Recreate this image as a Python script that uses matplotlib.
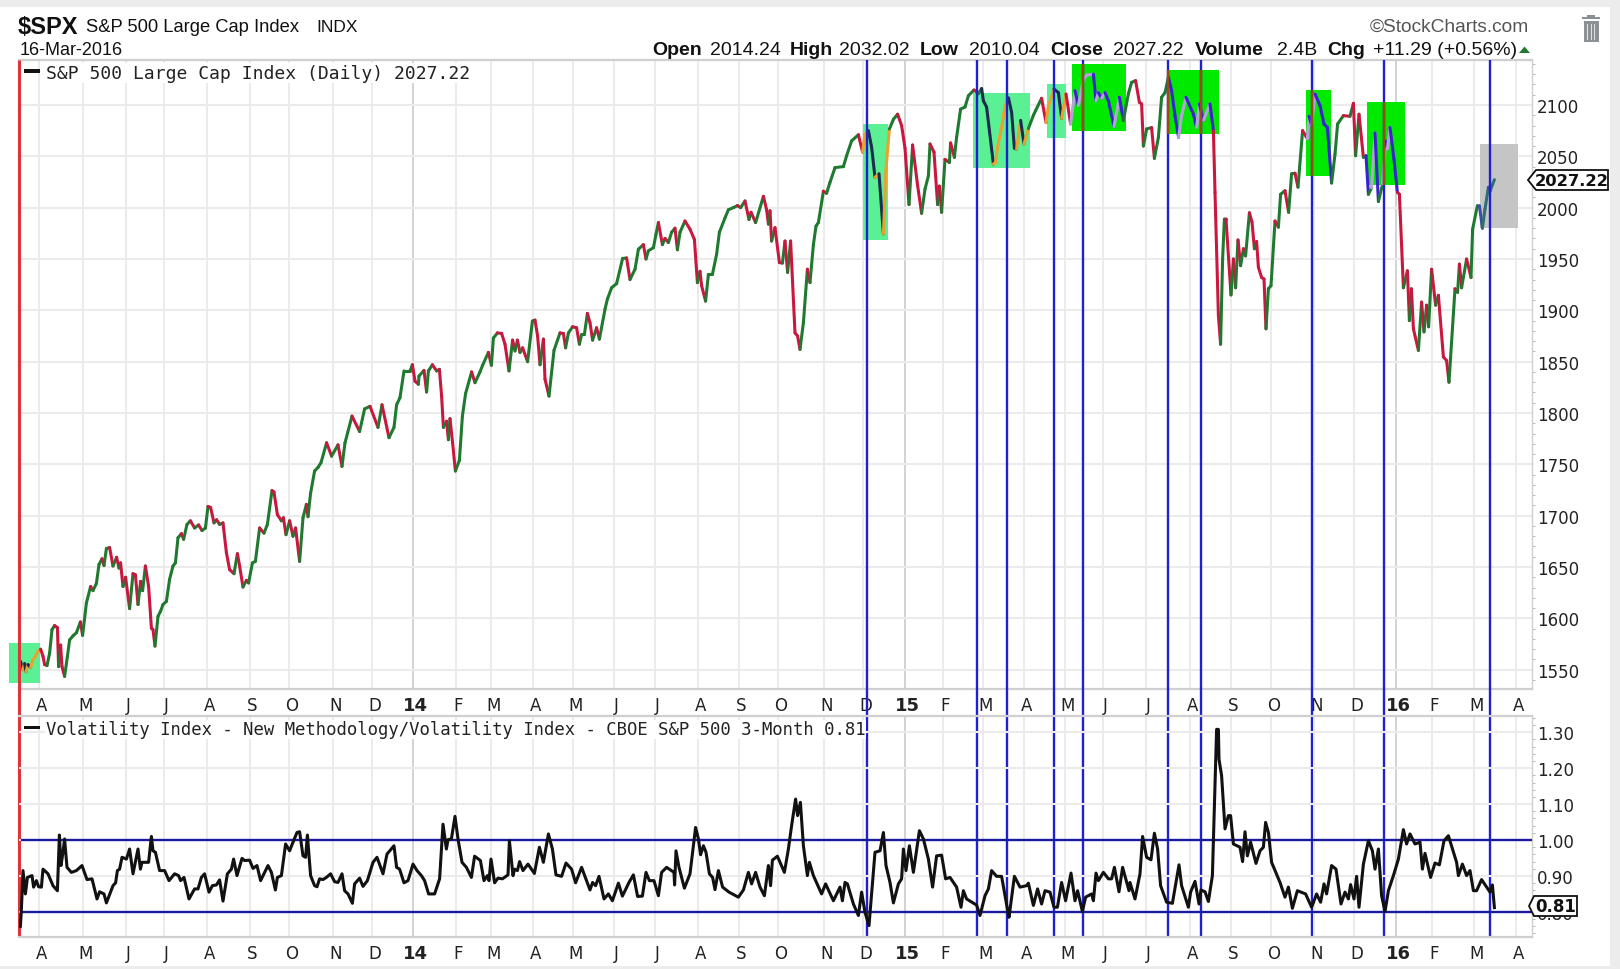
import matplotlib
matplotlib.use("Agg")
import numpy as np
import matplotlib.pyplot as plt
from matplotlib.collections import LineCollection
from matplotlib.patches import Rectangle, Polygon
from matplotlib.ticker import FormatStrFormatter
from matplotlib.transforms import blended_transform_factory, ScaledTranslation

# ---------- data (x = trading session counted from the left edge) ----------
price_session = [
 1.0,2.0,3.0,3.7,4.7,6.0,7.2,8.4,9.7,11.0,12.2,13.0,14.2,15.5,16.7,18.0,19.4,20.0,21.0,21.7,
 23.0,24.4,25.5,27.2,28.9,30.9,32.0,33.9,36.0,37.2,38.9,40.2,41.7,42.7,43.9,45.5,47.2,49.0,50.2,51.0,
 52.2,53.5,55.5,57.2,58.4,59.7,61.0,62.0,63.4,65.0,66.4,67.2,68.2,69.7,71.0,72.2,73.9,75.5,77.2,78.4,
 79.7,81.4,82.5,84.2,85.9,88.0,90.0,91.7,93.4,94.7,96.0,97.7,99.0,100.5,102.2,103.9,105.5,107.7,109.4,110.5,
 112.2,113.9,115.0,116.9,118.4,120.5,122.7,124.4,126.7,127.7,129.4,131.4,132.4,133.7,135.5,137.2,138.5,140.5,142.2,143.9,
 144.7,146.0,148.0,149.7,151.2,154.0,156.5,159.7,161.7,163.2,166.7,170.5,173.0,175.7,179.7,181.7,185.2,187.7,189.0,190.7,
 192.7,195.7,196.9,198.2,199.9,200.2,202.7,204.0,204.9,206.9,209.0,210.4,211.5,212.4,214.0,214.9,215.7,217.0,218.4,220.4,
 221.9,223.5,226.5,228.2,230.7,232.0,234.9,236.4,237.4,239.4,241.5,243.2,245.2,247.0,248.2,249.4,250.7,252.0,254.5,256.9,
 258.2,259.5,260.7,262.4,263.2,265.2,267.7,270.7,272.4,273.5,274.9,277.0,279.0,280.4,281.5,282.9,284.4,285.7,287.0,289.0,
 290.4,293.2,294.4,296.5,299.0,302.0,304.0,305.7,308.2,309.9,312.4,313.7,314.9,317.4,318.7,319.9,321.9,323.2,324.9,326.5,
 328.2,329.4,330.7,333.2,335.7,337.9,339.4,340.7,341.5,343.5,344.9,346.9,349.0,350.4,353.2,354.9,357.4,359.4,361.0,363.2,
 365.2,366.2,368.5,372.4,374.0,374.9,375.7,376.5,378.2,380.4,381.9,383.2,384.5,386.0,388.2,389.5,390.7,392.4,394.4,395.7,
 397.4,398.7,399.9,402.4,404.0,405.7,408.2,412.4,414.0,416.5,419.9,422.0,423.2,424.9,426.5,428.2,430.2,432.4,433.7,435.4,
 437.4,439.5,441.5,443.2,445.2,447.0,449.4,451.5,453.2,454.9,455.7,457.7,459.5,460.4,461.5,463.2,465.4,466.0,467.9,469.0,
 471.0,473.2,474.9,477.7,479.9,481.5,482.4,484.0,485.4,487.4,488.5,489.5,491.5,493.2,494.9,496.5,497.9,499.0,501.0,502.7,
 504.9,507.4,508.5,511.5,513.7,514.9,517.7,519.9,521.5,523.7,526.0,528.2,529.9,532.4,534.0,537.4,538.7,539.9,541.5,543.2,
 544.9,547.7,550.4,552.4,554.9,556.5,558.5,560.4,561.5,562.4,564.0,566.5,567.9,569.9,571.5,573.2,574.9,576.5,578.2,580.0,
 581.5,583.7,587.4,589.0,590.4,592.4,595.7,597.4,598.2,599.9,601.0,602.0,602.9,603.7,606.2,607.4,608.5,609.7,611.0,612.4,
 613.5,615.4,616.7,617.9,619.0,619.9,621.5,622.7,623.7,624.9,626.2,628.2,629.9,631.0,633.2,635.0,636.5,638.2,639.7,642.0,
 644.4,645.2,646.5,648.2,650.7,652.7,654.4,656.5,658.2,659.5,662.4,665.7,667.4,668.5,670.2,672.4,673.7,674.9,676.5,678.2,
 679.9,682.0,683.5,684.4,685.7,687.7,689.4,690.4,692.4,694.4,695.4,696.4,697.4,699.9,701.5,702.7,704.0,705.0,706.5,708.5,
 709.9,712.4,714.0,715.2,718.2,719.5,720.4,721.5,724.0,726.2,727.0,729.4,730.4,731.9,733.2,734.9,735.7,737.9]
price_close = [
 1558,1550,1556,1548,1555,1552,1560,1563,1568,1570,1563,1555,1554,1566,1589,1593,1591,1553,1574,1553,
 1543.5,1563,1579,1583,1586,1596.5,1583.5,1615,1631,1627,1634,1652.5,1658,1651.5,1668,1669,1651,1659.5,1649,1654,
 1631,1640,1609.5,1643.5,1642.5,1613.5,1636,1627,1651,1631,1590.5,1589,1573,1602,1607,1613.5,1616.5,1638,1651,1654,
 1678.5,1682.5,1677,1691.5,1695,1688,1691,1685.5,1688,1709,1708,1693,1696,1691.5,1693,1664,1647.5,1643.5,1663,1651,
 1630.5,1637,1634.5,1654,1655.5,1688,1683,1691.5,1724.5,1723,1701,1695,1698,1681.5,1695,1680,1688,1655.5,1698,1711,
 1699,1722,1743.5,1747,1751.6,1771,1758,1769,1748,1771,1797,1782,1804,1806.5,1786,1808,1776,1786,1808,1815,
 1841,1841,1847,1831,1828,1836,1841.5,1820.5,1841,1847,1841,1842.5,1816.5,1786,1792,1774,1794.5,1771,1743.5,1754,
 1797,1819,1840,1829.5,1840,1846.5,1859,1846.5,1873,1878,1877.5,1867,1841,1871,1860.5,1871,1859,1863.5,1850,1889.5,
 1890.5,1875,1847,1872,1833,1816.5,1861,1878,1877.5,1863.5,1878,1884,1883,1867,1876.5,1876.5,1897,1888,1871,1883,
 1872,1901,1911,1922,1926,1950.5,1951,1930,1940,1959.5,1964,1950,1958,1961,1974,1985.5,1964,1970,1966,1976,
 1980,1959,1976,1987,1979,1969,1927,1938,1924,1909,1935,1935,1954.5,1976,1990,1998,2000,2002,2000,2006.5,
 1988.5,1995.5,1985.5,2011,1998,1984,1997,1967.5,1980.5,1946.5,1946,1967.5,1937,1967.5,1878,1875,1862,1888,1940,1927,
 1964,1982,1985.5,2016,2014,2024.7,2039,2040,2050.5,2065,2071,2054,2072,2075,2059,2029.5,2033,1974.5,2037.7,2076.6,
 2086,2091,2080,2058,2003,2061,2023,1994.5,2018,2031,2062,2054,2003,2021,1995.5,2047,2044,2063,2049,2068.5,
 2096,2098,2109,2114.6,2111,2116,2104,2098,2075,2042.5,2044,2059,2078,2099,2107,2093,2058,2057,2085,2062,
 2077,2090,2094.5,2106.5,2083,2099,2115.5,2112,2087,2110.7,2081.5,2114,2099.4,2125,2129,2130,2104,2112,2106.5,2112,
 2104,2079,2107.5,2085,2111,2122,2123.7,2102.6,2101,2060,2076.6,2078,2048,2068.5,2107.5,2112,2127,2114,2089.6,2068.5,
 2089.6,2107.5,2091,2078,2101,2085,2101,2075,2015,1895,1867,1950,1989,1989,1915,1950,1922,1968.5,1943.5,1960,
 1953,1995,1986,1960,1967,1942,1932,1930.5,1882,1921,1924,1987,1981,2013,2016.5,1995.5,2033,2033.5,2020,2075,
 2067,2089,2080,2110.7,2099.4,2081.5,2078,2024,2052,2081.5,2089.6,2089,2101.6,2050.6,2091,2049,2050.6,2013,2019.4,2072.7,
 2006,2023,2065,2057,2078,2047,2015,2013,1922,1938.5,1890,1921,1882,1861,1908,1879,1905,1884,1940,1905,
 1914.6,1854.6,1851,1830,1921,1917.5,1945,1922,1950,1932,1979,2002,2002,1980,1998.7,2019.8,2016,2027.22]

vix_session = [
 0.9,1.4,2.2,3.4,4.4,6.7,7.5,8.9,10.0,11.4,12.2,14.7,17.2,19.4,20.4,21.2,22.2,23.0,24.2,26.4,
 28.9,31.7,34.2,36.7,39.2,40.5,42.7,43.9,47.2,48.5,49.4,50.5,51.7,53.9,55.5,57.2,59.7,60.9,61.7,65.0,
 66.4,67.2,68.4,70.5,73.0,75.2,78.0,80.0,81.0,82.7,85.2,88.0,89.7,91.4,93.0,95.2,96.9,98.9,100.5,102.2,
 104.4,106.4,107.5,109.2,111.7,113.0,115.5,117.2,119.2,121.0,124.7,126.4,128.4,129.4,131.4,133.5,135.5,137.2,139.2,140.5,
 142.2,143.5,144.4,146.0,148.0,149.2,150.5,152.2,153.9,156.0,158.0,159.7,161.7,163.0,164.7,166.9,168.0,170.5,172.2,174.4,
 177.2,179.2,182.2,184.2,187.7,189.0,190.5,192.7,194.7,197.2,199.2,201.4,203.0,205.0,208.0,210.5,212.2,213.9,214.7,216.4,
 218.2,219.7,221.7,223.9,226.4,228.0,230.9,232.7,234.4,235.2,236.2,238.0,239.7,241.9,244.7,245.4,247.2,248.0,249.4,250.5,
 252.2,254.7,257.9,260.4,262.4,264.9,266.9,268.7,271.5,273.7,276.5,278.5,281.5,285.7,287.0,288.5,290.2,292.7,294.9,296.9,
 299.9,301.9,305.2,307.4,309.5,311.9,313.7,315.4,317.7,319.9,321.5,324.0,327.7,328.0,328.7,330.2,332.9,335.7,338.5,339.9,
 341.0,342.4,343.7,345.4,347.0,348.2,349.9,352.0,355.2,359.9,362.4,364.9,366.5,368.5,370.7,372.9,374.9,376.0,376.9,379.4,
 382.9,384.9,386.5,388.5,389.5,390.9,392.4,394.4,395.4,397.4,401.5,403.5,407.4,410.7,411.9,413.2,414.4,417.4,419.9,421.5,
 423.2,425.2,428.2,430.7,432.4,433.7,435.7,437.4,439.9,441.5,442.4,443.7,445.4,447.4,450.4,452.4,454.9,457.0,459.0,461.5,
 463.5,465.7,469.0,471.2,472.4,474.0,479.0,480.7,483.2,484.9,486.5,489.0,491.5,494.4,495.2,497.9,500.7,504.0,504.9,507.4,
 509.5,511.5,513.2,515.7,517.7,519.4,521.5,523.5,526.2,528.2,529.5,531.9,533.5,536.5,537.4,538.7,539.9,542.4,544.9,546.5,
 547.9,550.2,552.0,555.2,555.7,558.2,560.7,562.0,564.0,566.2,567.9,569.5,571.0,574.0,576.9,580.2,581.5,584.9,586.0,588.2,
 590.2,591.2,593.2,594.9,596.9,599.0,599.9,600.2,601.5,603.2,604.9,606.0,607.4,610.7,612.0,613.2,614.4,616.0,618.7,620.7,
 622.4,623.5,624.9,626.5,630.7,633.2,634.9,636.9,639.4,643.5,646.5,649.0,651.0,652.7,654.0,656.5,658.7,661.2,663.2,664.9,
 666.0,667.7,669.0,670.2,672.4,674.9,676.9,678.2,679.9,681.5,683.2,684.9,687.4,689.9,692.4,694.0,695.7,698.2,700.7,701.9,
 703.2,706.0,708.2,710.4,712.7,714.9,719.0,719.9,721.9,724.0,725.7,727.4,729.0,731.5,735.7,736.9,737.9]
vix_ratio = [
 .760,.808,.915,.850,.896,.901,.869,.887,.870,.869,.919,.906,.873,.859,1.014,.929,.966,1.003,.924,.910,
 .915,.929,.890,.892,.836,.856,.850,.825,.873,.881,.915,.919,.952,.947,.975,.906,.975,.919,.938,.938,
 1.010,.970,.966,.915,.915,.887,.906,.901,.887,.896,.836,.864,.864,.896,.906,.855,.873,.875,.889,.830,
 .906,.919,.947,.901,.949,.943,.944,.921,.929,.887,.929,.910,.861,.896,.901,.989,.970,.994,1.021,1.023,
 .956,.952,1.014,.901,.873,.870,.892,.890,.896,.906,.884,.882,.906,.859,.850,.824,.878,.894,.871,.887,
 .938,.952,.906,.961,.984,.924,.919,.881,.887,.933,.915,.901,.887,.850,.850,.892,1.044,.975,1.001,1.003,
 1.066,1.003,.938,.924,.896,.955,.943,.887,.901,.887,.947,.881,.894,.892,.903,.998,.901,.919,.915,.940,
 .915,.933,.907,.980,.938,1.017,.975,.903,.899,.936,.919,.881,.924,.861,.882,.873,.899,.836,.850,.831,
 .880,.844,.882,.903,.843,.844,.910,.887,.887,.845,.910,.924,.910,.875,.970,.924,.866,.906,1.035,1.003,
 .959,.984,.966,.906,.896,.862,.915,.869,.855,.841,.861,.910,.878,.910,.869,.845,.929,.873,.944,.955,
 .910,.975,1.040,1.114,1.068,1.105,.984,.901,.938,.901,.850,.878,.831,.869,.831,.882,.878,.822,.790,.855,
 .799,.762,.966,.970,1.021,.929,.882,.825,.878,.892,.975,.915,.984,.910,1.026,1.003,.947,.869,.956,.958,
 .892,.896,.869,.813,.859,.836,.819,.790,.845,.864,.915,.899,.899,.808,.785,.899,.869,.873,.880,.818,
 .864,.822,.859,.855,.813,.813,.882,.831,.908,.831,.859,.801,.841,.850,.831,.908,.887,.910,.892,.892,
 .924,.856,.924,.859,.882,.836,.906,1.010,.952,.945,1.019,.975,.873,.827,.824,.931,.873,.813,.855,.885,
 .822,.861,.856,.829,.901,1.308,1.308,1.225,1.179,1.031,1.068,1.068,.989,.980,.940,1.023,.956,.994,.935,.970,
 .980,1.049,1.021,.938,.882,.841,.869,.810,.859,.850,.813,.850,.827,.878,.850,.929,.919,.822,.855,.836,
 .876,.836,.899,.813,.933,.998,.970,.919,.975,.845,.801,.859,.901,.947,1.029,.989,1.017,.989,.994,.919,
 .963,.896,.936,.931,.998,1.012,.938,.901,.933,.901,.915,.859,.859,.890,.855,.875,.812]

month_ticks = [10.2,32.2,53.5,72.7,94.2,115.7,135.2,157.2,176.7,197.2,218.5,236.2,257,277.2,297.7,318.2,339.7,360.2,379.7,
               402.7,422.2,443.2,462.2,482,502.7,523.2,542.2,563.7,585.7,606.2,626.2,647.7,667.7,688.7,706.7,727.7,748.7]
month_labels = ['A','M','J','J','A','S','O','N','D','14','F','M','A','M','J','J','A','S','O',
                'N','D','15','F','M','A','M','J','J','A','S','O','N','D','16','F','M','A']
price_ticks = [1550,1600,1650,1700,1750,1800,1850,1900,1950,2000,2050,2100]
ratio_ticks = [0.80,0.90,1.00,1.10,1.20,1.30]
marker_sessions = [424.3,479.1,494.4,517.8,532.3,574.7,591.0,646.7,682.7,735.5]
ratio_levels = [1.00,0.80]

# highlighted boxes: session start, session end, low, high
pale_boxes = [(-4.6,10.7,1536.8,1575.8),(422.05,434.7,1968.2,2081.8),(477.35,505.85,2038.3,2111.4),(514.0,523.7,2067.6,2120.2)]
bright_boxes = [(526.7,553.55,2075.0,2139.6),(574.7,600.35,2071.5,2134.0),(643.7,656.2,2031.1,2114.9),(674.2,693.0,2022.0,2102.6)]
grey_boxes = [(730.85,749.85,1980.2,2062.3)]

W, H = 1620, 970
fig = plt.figure(figsize=(W/100, H/100), dpi=100, facecolor='white')
LEFT, RIGHT = 18.6, 1531.6

def axes_px(x0, y0, x1, y1):
    return fig.add_axes([x0/W, 1-y1/H, (x1-x0)/W, (y1-y0)/H])

def fx(x): return x/W
def fy(y): return 1-y/H

BAND = '#ececec'
for r in [(0,0,W,8),(0,967,W,3),(1610,0,10,H)]:
    fig.add_artist(Rectangle((fx(r[0]),fy(r[1]+r[3])),r[2]/W,r[3]/H,transform=fig.transFigure,color=BAND,lw=0,zorder=-5))

ax1 = axes_px(LEFT,61,RIGHT,690)
ax2 = axes_px(LEFT,716.7,RIGHT,937.7)
ax1.set_xlim(0,756.5); ax2.set_xlim(0,756.5)
ax1.set_ylim(1531.2,2143.8); ax2.set_ylim(0.731,1.346)

label_shift = ScaledTranslation(2.5/100, 0, fig.dpi_scale_trans)
for ax, ticks in ((ax1,price_ticks),(ax2,ratio_ticks)):
    ax.set_facecolor('none')
    ax.set_xticks(month_ticks); ax.set_xticklabels(month_labels)
    ax.set_yticks(ticks)
    ax.yaxis.tick_right()
    ax.tick_params(axis='x',length=0,pad=5,labelsize=12,labelcolor='#222222')
    ax.tick_params(axis='y',length=0,pad=4,labelsize=12,labelcolor='#222222')
    ax.set_axisbelow(True)
    ax.grid(axis='y',color='#ebebeb',lw=1.5,zorder=0)
    for t,l in zip(month_ticks,month_labels):
        isyr = l.isdigit()
        ax.axvline(t,color='#d2d2d2' if isyr else '#ebebeb',lw=1.4,zorder=0)
    for lab in ax.get_xticklabels():
        if lab.get_text().isdigit():
            lab.set_fontweight('bold'); lab.set_fontsize(13)
        lab.set_transform(lab.get_transform()+label_shift)
    for sp in ('top','bottom','right'):
        ax.spines[sp].set_color('#cfcfcf'); ax.spines[sp].set_linewidth(1.6)
    ax.spines['right'].set_linewidth(1.0)
    ax.spines['left'].set_visible(False)
ax2.yaxis.set_major_formatter(FormatStrFormatter('%.2f'))

ax1.set_yticks(np.arange(1540,2141,10),minor=True)
ax2.set_yticks(np.arange(0.74,1.345,0.02),minor=True)
for ax in (ax1,ax2):
    ax.tick_params(axis='y',which='minor',length=2.5,width=0.7,color='#b5b5b5',direction='out')

def add_box(ax, b, col):
    ax.add_patch(Rectangle((b[0],b[2]),b[1]-b[0],b[3]-b[2],facecolor=col,edgecolor='none',zorder=1,clip_on=False))

PALE='#5cf095'; BRIGHT='#00ea00'; GREY='#c5c5c5'
for b in pale_boxes: add_box(ax1,b,PALE)
for b in bright_boxes: add_box(ax1,b,BRIGHT)
for b in grey_boxes: add_box(ax1,b,GREY)

# full-height session markers
blend = blended_transform_factory(ax1.transData, fig.transFigure)
for s in marker_sessions:
    ax1.plot([s,s],[fy(61),fy(937.5)],transform=blend,color='#1f1fd6',lw=1.7,clip_on=False,zorder=6,solid_capstyle='butt')
    for b in bright_boxes:
        if b[0] <= s <= b[1]:
            ax1.plot([s,s],[b[2],b[3]],color='#9a4a12',lw=1.7,zorder=6.5,solid_capstyle='butt')
ax1.plot([0,0],[fy(61),fy(937.5)],transform=blend,color='#e0343c',lw=2.2,clip_on=False,zorder=6,solid_capstyle='butt')

# price line, coloured by direction and by the box it crosses
x = np.array(price_session); y = np.array(price_close)
UP, DOWN = '#1f7a30', '#c9173f'
segs, cols = [], []
for i in range(len(x)-1):
    mx, my = (x[i]+x[i+1])/2, (y[i]+y[i+1])/2
    up = y[i+1] >= y[i]
    c = UP if up else DOWN
    for b in pale_boxes:
        if b[0]<=mx<=b[1] and b[2]<=my<=b[3]:
            c = '#e8a32e' if up else '#1d2b4f'
    for b in bright_boxes:
        if b[0]<=mx<=b[1] and b[2]<=my<=b[3]:
            c = '#b7a3dc' if up else '#3a22cf'
    for b in grey_boxes:
        if b[0]<=mx<=b[1] and b[2]<=my<=b[3]:
            c = '#2f6f72' if up else '#3b4ea8'
    segs.append([(x[i],y[i]),(x[i+1],y[i+1])]); cols.append(c)
ax1.add_collection(LineCollection(segs,colors=cols,linewidths=2.2,zorder=5,capstyle='round'))

# ratio panel
for lv in ratio_levels:
    ax2.plot([1,756.5],[lv,lv],color='#1a1a9c',lw=1.7,zorder=3,solid_capstyle='butt')
ax2.plot(vix_session,vix_ratio,color='#111111',lw=2.2,zorder=5,solid_joinstyle='round')

# text
TX = '#111111'
def ftext(x,y,s,**kw):
    kw.setdefault('color',TX); kw.setdefault('va','center'); kw.setdefault('family','Liberation Sans')
    fig.text(fx(x),fy(y),s,**kw)

ftext(18,27,r'\$SPX',fontsize=17,fontweight='bold')
ftext(86,27,'S&P 500 Large Cap Index',fontsize=13.2)
ftext(316,27,'INDX',fontsize=12.5)
ftext(20,50.5,'16-Mar-2016',fontsize=13)
ftext(1370,27,'\u00a9StockCharts.com',fontsize=13.8,color='#555555')
for xp,s,bold in [(652,'Open',1),(710,'2014.24',0),(790,'High',1),(839.5,'2032.02',0),(920,'Low',1),(968.5,'2010.04',0),
                  (1050,'Close',1),(1113,'2027.22',0),(1195,'Volume',1),(1277.5,'2.4B',0),(1327.5,'Chg',1),(1373,'+11.29 (+0.56%)',0)]:
    ftext(xp,50.5,s,fontsize=14,fontweight='bold' if bold else 'normal')

def fpoly(pts,**kw):
    fig.add_artist(Polygon([(fx(a),fy(b)) for a,b in pts],closed=True,transform=fig.transFigure,**kw))

fpoly([(1519,54),(1530,54),(1524.5,47.5)],facecolor='#1f7a30',edgecolor='none')

# legends
for y0,s,fs in [(74,'S&P 500 Large Cap Index (Daily) 2027.22',13.0),
                (730.5,'Volatility Index - New Methodology/Volatility Index - CBOE S&P 500 3-Month 0.81',12.4)]:
    fig.add_artist(Rectangle((fx(24),fy(y0-0.5)),16/W,3.5/H,transform=fig.transFigure,color='#111111',lw=0))
    ftext(46,y0,s,fontsize=fs,family='DejaVu Sans Mono',color='#222222',zorder=8,
          bbox=dict(facecolor='white',edgecolor='none',pad=0.5))

# value flags
def flag(x0,x1,tip,ytop,ybot,s,fs):
    ym=(ytop+ybot)/2
    fpoly([(tip,ym),(x0,ytop),(x1,ytop),(x1,ybot),(x0,ybot)],facecolor='white',edgecolor='#111111',lw=1.3,zorder=9)
    ftext((x0+x1)/2,ym,s,fontsize=fs,fontweight='bold',ha='center',family='DejaVu Sans',zorder=10)
flag(1536,1608,1528,171,191,'2027.22',11.8)
flag(1534,1577,1529,897,917,'0.81',12)

# trash icon
fig.add_artist(Rectangle((fx(1583.5),fy(43)),15/W,21/H,transform=fig.transFigure,color='#8b9095',lw=0))
fig.add_artist(Rectangle((fx(1582),fy(20)),18/W,2.5/H,transform=fig.transFigure,color='#8b9095',lw=0))
fig.add_artist(Rectangle((fx(1587),fy(18)),8/W,2/H,transform=fig.transFigure,color='#8b9095',lw=0))
for xb in (1587,1590.5,1594):
    fig.add_artist(Rectangle((fx(xb),fy(41)),1.2/W,16/H,transform=fig.transFigure,color='#dfe1e3',lw=0))

fig.savefig('out.png',dpi=100,facecolor='white')
